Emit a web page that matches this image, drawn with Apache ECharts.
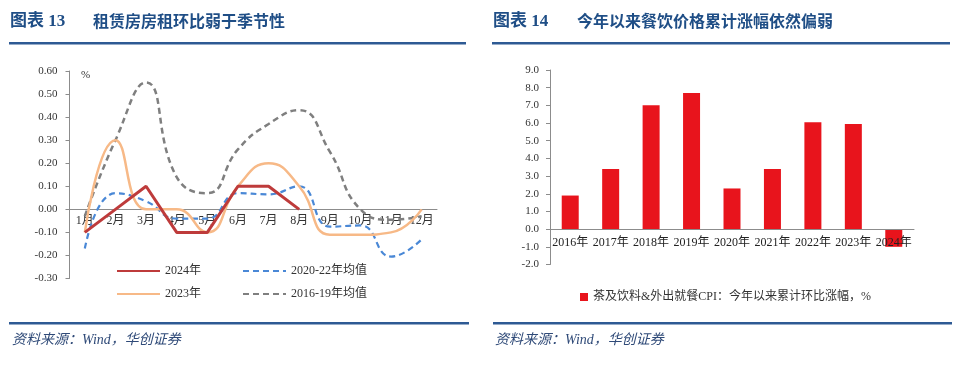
<!DOCTYPE html>
<html>
<head>
<meta charset="utf-8">
<script src="https://cdn.jsdelivr.net/npm/echarts@6/dist/echarts.min.js"></script>
<style>
html,body{margin:0;padding:0;background:#fff;}
#chart{width:960px;height:365px;}
</style>
</head>
<body>
<div id="chart"></div>
<script>
// ---- Left chart data ----
var months = ['1月','2月','3月','4月','5月','6月','7月','8月','9月','10月','11月','12月'];
var yLeftTicks = { min: -0.3, max: 0.6, interval: 0.1 };
var s2024 = [-0.1, 0.0, 0.1, -0.1, -0.1, 0.1, 0.1, 0.0];
var s2023 = [-0.1, 0.3, 0.0, 0.0, -0.1, 0.1, 0.2, 0.1, -0.11, -0.11, -0.1, 0.0];
var avg2022 = [-0.17, 0.07, 0.035, -0.04, -0.04, 0.07, 0.065, 0.1, -0.075, -0.07, -0.205, -0.13];
var avg2019 = [-0.03, 0.3, 0.55, 0.14, 0.07, 0.26, 0.37, 0.43, 0.25, 0.0, -0.045, -0.03];
var leftNames = ['2024年', '2020-22年均值', '2023年', '2016-19年均值'];

// ---- Right chart data ----
var years = ['2016年','2017年','2018年','2019年','2020年','2021年','2022年','2023年','2024年'];
var yRightTicks = { min: -2, max: 9, interval: 1 };
var cpiCum = [1.9, 3.4, 7.0, 7.7, 2.3, 3.4, 6.05, 5.95, -1.0];
var rightName = '茶及饮料&外出就餐CPI：今年以来累计环比涨幅，%';

// ---- Titles ----
var titleLeftNo = '图表 13', titleLeft = '租赁房房租环比弱于季节性';
var titleRightNo = '图表 14', titleRight = '今年以来餐饮价格累计涨幅依然偏弱';
var sourceText = '资料来源：Wind，华创证券';

var SERIF = "'Liberation Serif','Noto Sans CJK SC',serif";
var TXT = '#333';
var AX = '#8c8c8c';
var titleColor = '#1f4e86';
var ruleColor = '#2e5a94';

// grid geometry
var gL = {left: 69.5, top: 71, width: 367.5, height: 207.5};
var gR = {left: 550, top: 70, width: 364, height: 194.5};
// shift each x axis up from the grid bottom to the zero line
function zeroOffset(g, t) {
  return -(g.height * (0 - t.min) / (t.max - t.min));
}

var chart = echarts.init(document.getElementById('chart'), null, {renderer: 'canvas'});

function lineLegend(name, left, top) {
  return {
    data: [name], left: left, top: top, padding: 0, itemWidth: 43, itemHeight: 14, itemGap: 0,
    itemStyle: {opacity: 0, borderWidth: 0},
    textStyle: {fontFamily: SERIF, fontSize: 12, color: TXT},
    selectedMode: false
  };
}

var option = {
  animation: false,
  backgroundColor: '#fff',
  grid: [gL, gR],
  xAxis: [
    {
      gridIndex: 0, type: 'category', data: months, boundaryGap: true,
      position: 'bottom', offset: zeroOffset(gL, yLeftTicks),
      axisLine: {onZero: false, lineStyle: {color: AX, width: 1}},
      axisTick: {length: 4, lineStyle: {color: AX}},
      axisLabel: {fontFamily: SERIF, fontSize: 12, color: TXT, margin: 6, interval: 0}
    },
    {
      gridIndex: 1, type: 'category', data: years, boundaryGap: true, zlevel: 1, z: 5,
      position: 'bottom', offset: zeroOffset(gR, yRightTicks),
      axisLine: {onZero: false, lineStyle: {color: AX, width: 1}},
      axisTick: {length: 4, lineStyle: {color: AX}},
      axisLabel: {fontFamily: SERIF, fontSize: 12, color: '#222', margin: 8, interval: 0}
    }
  ],
  yAxis: [
    {
      gridIndex: 0, type: 'value', min: yLeftTicks.min, max: yLeftTicks.max, interval: yLeftTicks.interval,
      axisLine: {show: true, lineStyle: {color: AX}},
      axisTick: {show: true, length: 4, lineStyle: {color: AX}},
      splitLine: {show: false},
      axisLabel: {fontFamily: SERIF, fontSize: 11, color: TXT, margin: 12,
        formatter: function (v) { return v.toFixed(2); }}
    },
    {
      gridIndex: 1, type: 'value', min: yRightTicks.min, max: yRightTicks.max, interval: yRightTicks.interval,
      axisLine: {show: true, lineStyle: {color: AX}},
      axisTick: {show: true, length: 4, lineStyle: {color: AX}},
      splitLine: {show: false},
      axisLabel: {fontFamily: SERIF, fontSize: 11, color: TXT, margin: 11,
        formatter: function (v) { return v.toFixed(1); }}
    }
  ],
  legend: [
    lineLegend(leftNames[0], 116, 265),
    lineLegend(leftNames[1], 242, 265),
    lineLegend(leftNames[2], 116, 288),
    lineLegend(leftNames[3], 242, 288),
    {
      data: [rightName], left: 580, top: 291, padding: 0, itemWidth: 8, itemHeight: 8, icon: 'rect',
      textStyle: {fontFamily: SERIF, fontSize: 12, color: TXT},
      selectedMode: false
    }
  ],
  series: [
    {
      name: leftNames[3], type: 'line', xAxisIndex: 0, yAxisIndex: 0, data: avg2019,
      smooth: 0.5, symbol: 'none', z: 2,
      lineStyle: {color: '#7f7f7f', width: 2.5, type: [6, 4]}, itemStyle: {color: '#7f7f7f'}
    },
    {
      name: leftNames[1], type: 'line', xAxisIndex: 0, yAxisIndex: 0, data: avg2022,
      smooth: 0.5, symbol: 'none', z: 3,
      lineStyle: {color: '#4a88d6', width: 2.2, type: [6, 4]}, itemStyle: {color: '#4a88d6'}
    },
    {
      name: leftNames[2], type: 'line', xAxisIndex: 0, yAxisIndex: 0, data: s2023,
      smooth: 0.5, symbol: 'none', z: 4,
      lineStyle: {color: '#f7b987', width: 2.5}, itemStyle: {color: '#f7b987'}
    },
    {
      name: leftNames[0], type: 'line', xAxisIndex: 0, yAxisIndex: 0, data: s2024,
      smooth: false, symbol: 'none', z: 5,
      lineStyle: {color: '#be3b3b', width: 3}, itemStyle: {color: '#be3b3b'}
    },
    {
      name: rightName, type: 'bar', xAxisIndex: 1, yAxisIndex: 1, data: cpiCum,
      barWidth: 17, itemStyle: {color: '#e8141c'}
    }
  ],
  graphic: [
    {type: 'text', left: 10, top: 13, style: {text: titleLeftNo, font: "bold 17px 'Liberation Serif','Noto Sans CJK SC'", fill: titleColor}},
    {type: 'text', left: 93, top: 13, style: {text: titleLeft, font: "bold 16px 'Noto Sans CJK SC'", fill: titleColor}},
    {type: 'text', left: 493, top: 13, style: {text: titleRightNo, font: "bold 17px 'Liberation Serif','Noto Sans CJK SC'", fill: titleColor}},
    {type: 'text', left: 577, top: 13, style: {text: titleRight, font: "bold 16px 'Noto Sans CJK SC'", fill: titleColor}},
    {type: 'rect', shape: {x: 9, y: 42, width: 457, height: 2.5}, style: {fill: ruleColor}},
    {type: 'rect', shape: {x: 492, y: 42, width: 458, height: 2.5}, style: {fill: ruleColor}},
    {type: 'rect', shape: {x: 9, y: 322, width: 460, height: 2.5}, style: {fill: ruleColor}},
    {type: 'rect', shape: {x: 493, y: 322, width: 459, height: 2.5}, style: {fill: ruleColor}},
    {type: 'text', left: 12, top: 333, style: {text: sourceText, font: "italic 14px 'Liberation Serif','Noto Sans CJK SC'", fill: '#2f4a78'}},
    {type: 'text', left: 495, top: 333, style: {text: sourceText, font: "italic 14px 'Liberation Serif','Noto Sans CJK SC'", fill: '#2f4a78'}},
    {type: 'text', left: 81, top: 70, style: {text: '%', font: "11px 'Liberation Serif'", fill: TXT}}
  ]
};
chart.setOption(option);
</script>
</body>
</html>
